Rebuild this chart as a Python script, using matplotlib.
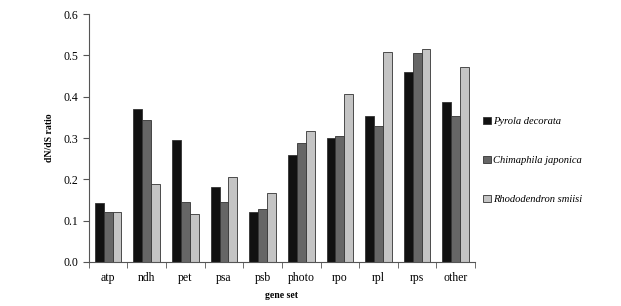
import numpy as np
import matplotlib.pyplot as plt
from matplotlib.ticker import FixedLocator

plt.rcParams['font.family'] = ['Liberation Serif', 'DejaVu Serif']

genes = ['atp', 'ndh', 'pet', 'psa', 'psb', 'photo', 'rpo', 'rpl', 'rps', 'other']
pyrola = [0.143, 0.371, 0.296, 0.181, 0.121, 0.260, 0.299, 0.354, 0.460, 0.386]
chima = [0.121, 0.343, 0.146, 0.146, 0.128, 0.288, 0.304, 0.330, 0.506, 0.354]
rhodo = [0.121, 0.189, 0.115, 0.205, 0.167, 0.318, 0.407, 0.509, 0.515, 0.471]
species = ['Pyrola decorata', 'Chimaphila japonica', 'Rhododendron smiisi']
colors = ['#111111', '#666666', '#c4c4c4']

fig = plt.figure(figsize=(6.21, 3.06), dpi=100)
ax = fig.add_axes([0.143, 0.144, 0.622, 0.81])

x = np.arange(len(genes))
w = 0.23
for i, (vals, lab, c) in enumerate(zip([pyrola, chima, rhodo], species, colors)):
    ax.bar(x + (i - 1) * w, vals, w, color=c, edgecolor='#333333', linewidth=0.6, label=lab)

ax.set_xlim(-0.5, len(genes) - 0.5)
ax.set_ylim(0, 0.6)
ax.set_yticks(np.arange(0, 0.61, 0.1))
ax.set_yticklabels(['%.1f' % v for v in np.arange(0, 0.61, 0.1)], fontsize=8.5)
ax.set_xticks(x)
ax.set_xticklabels(genes, fontsize=8.5)
ax.tick_params(axis='x', which='major', length=0, pad=7)
ax.xaxis.set_minor_locator(FixedLocator(np.arange(-0.5, len(genes), 1.0)))
ax.tick_params(axis='x', which='minor', length=4, color='#555555', direction='out')
ax.tick_params(axis='y', length=4, color='#555555', direction='out')

for s in ['top', 'right']:
    ax.spines[s].set_visible(False)
for s in ['left', 'bottom']:
    ax.spines[s].set_color('#555555')
    ax.spines[s].set_linewidth(0.8)

ax.set_ylabel('dN/dS ratio', fontsize=7, fontweight='bold', labelpad=7)
ax.set_xlabel('gene set', fontsize=7, fontweight='bold', labelpad=5)

leg = ax.legend(loc='center left', bbox_to_anchor=(1.01, 0.41), frameon=False,
                prop={'style': 'italic', 'size': 7.6}, handlelength=0.7, handleheight=0.7,
                handletextpad=0.2, labelspacing=2.8, borderaxespad=0)

fig.savefig('out.png', dpi=100)
